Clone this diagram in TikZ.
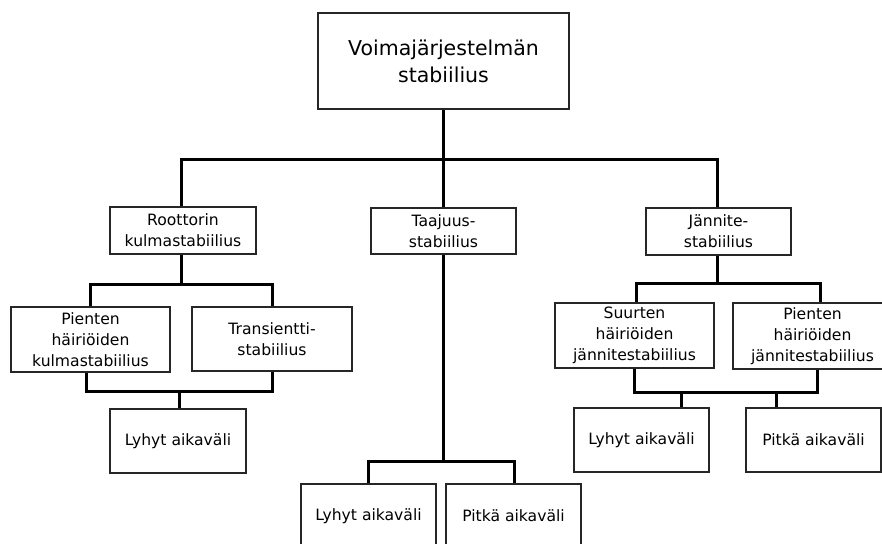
\documentclass[tikz,border=0pt]{standalone}
\usepackage{fontspec}
\setmainfont{DejaVu Sans}
\begin{document}
\begin{tikzpicture}[x=1pt,y=-1pt,
  box/.style={draw=black!85, line width=1.3pt, align=center, inner sep=0pt,
    font=\fontsize{15.6}{21}\selectfont},
  bigbox/.style={box, font=\fontsize{20.5}{27}\selectfont},
  conn/.style={line width=3pt, black}]
\useasboundingbox (0,0) rectangle (882,543);
\clip (0,0) rectangle (882,543);
% boxes
\node[bigbox, minimum width=251pt, minimum height=96pt] (top) at (443.5,61) {Voimajärjestelmän\\stabiilius};
\node[box, minimum width=146pt, minimum height=47pt] (root) at (183,230.5) {Roottorin\\kulmastabiilius};
\node[box, minimum width=145pt, minimum height=46pt] (taaj) at (443.5,231) {Taajuus-\\stabiilius};
\node[box, minimum width=145pt, minimum height=47pt] (jann) at (718.5,231.5) {Jännite-\\stabiilius};
\node[box, minimum width=159pt, minimum height=65pt] (pien1) at (90.5,339.5) {Pienten\\häiriöiden\\kulmastabiilius};
\node[box, minimum width=160pt, minimum height=64pt] (trans) at (272,339) {Transientti-\\stabiilius};
\node[box, minimum width=136pt, minimum height=64pt] (lyh1) at (178,441) {Lyhyt aikaväli};
\node[box, minimum width=135pt, minimum height=64pt] (lyh2) at (368.5,516) {Lyhyt aikaväli};
\node[box, minimum width=135pt, minimum height=64pt] (pit2) at (513.5,516) {Pitkä aikaväli};
\node[box, minimum width=159pt, minimum height=65pt] (suur) at (634.5,335.5) {Suurten\\häiriöiden\\jännitestabiilius};
\node[box, minimum width=159pt, minimum height=66pt] (pien2) at (812.5,336) {Pienten\\häiriöiden\\jännitestabiilius};
\node[box, minimum width=135pt, minimum height=64pt] (lyh3) at (641.5,440) {Lyhyt aikaväli};
\node[box, minimum width=135pt, minimum height=64pt] (pit3) at (813.5,440) {Pitkä aikaväli};
% junction coordinates
\coordinate (busL) at (181,159);
\coordinate (busR) at (717,159);
\coordinate (l1) at (90,284);
\coordinate (l2) at (272,284);
\coordinate (m1) at (86,391);
\coordinate (m2) at (272,391);
\coordinate (m3) at (179,391);
\coordinate (c1) at (368,461);
\coordinate (c2) at (514,461);
\coordinate (r1) at (636,283);
\coordinate (r2) at (820,283);
\coordinate (s1) at (634,392);
\coordinate (s2) at (817,392);
\coordinate (s3) at (681,392);
\coordinate (s4) at (776,392);
% connectors
\draw[conn] (top.south) -- (top.south |- busL);
\draw[conn] (busL |- root.north) -- (busL) -- (busR) -- (busR |- jann.north);
\draw[conn] (taaj.north) -- (taaj.north |- busL);
\draw[conn] (busL |- root.south) -- (busL |- l1);
\draw[conn] (l1 |- pien1.north) -- (l1) -- (l2) -- (l2 |- trans.north);
\draw[conn] (m1 |- pien1.south) -- (m1) -- (m2) -- (m2 |- trans.south);
\draw[conn] (m3) -- (m3 |- lyh1.north);
\draw[conn] (taaj.south) -- (taaj.south |- c1);
\draw[conn] (c1 |- lyh2.north) -- (c1) -- (c2) -- (c2 |- pit2.north);
\draw[conn] (busR |- jann.south) -- (busR |- r1);
\draw[conn] (r1 |- suur.north) -- (r1) -- (r2) -- (r2 |- pien2.north);
\draw[conn] (s1 |- suur.south) -- (s1) -- (s2) -- (s2 |- pien2.south);
\draw[conn] (s3) -- (s3 |- lyh3.north);
\draw[conn] (s4) -- (s4 |- pit3.north);
\end{tikzpicture}
\end{document}
